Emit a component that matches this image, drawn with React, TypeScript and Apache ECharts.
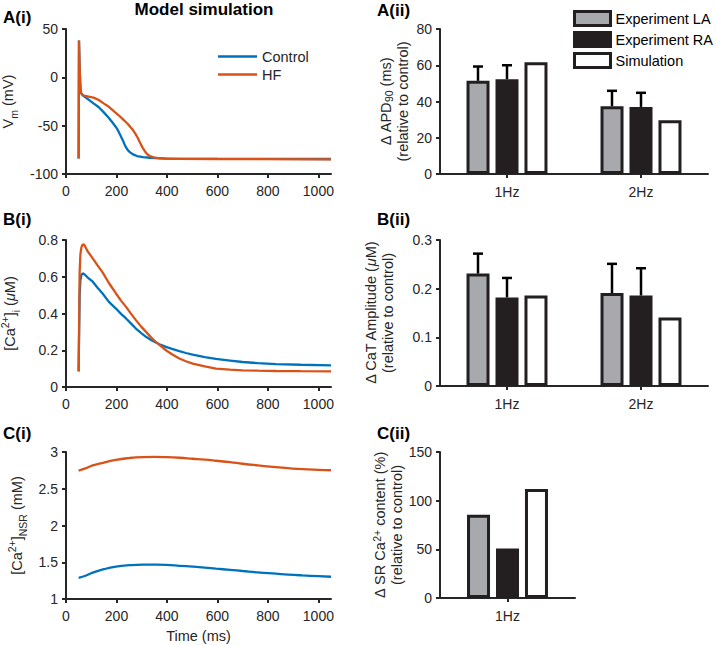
import React, { useEffect, useRef } from "react";
import * as echarts from "echarts";

// ---------- Left column: model simulation traces ([time ms, value]) ----------
const timeTicks = [0, 200, 400, 600, 800, 1000];

const controlAP: [number, number][] = [
  [50, -84], [51.5, 38], [54, 10], [57, -10], [60, -16.5], [66, -18.5], [83, -21.7], [109, -27],
  [130, -31], [149, -36], [170, -42], [188, -48], [202, -53], [215, -59.7], [225, -65],
  [234, -70.7], [244, -75], [254, -77.6], [268, -80], [281, -81.4], [305, -82.5],
  [333, -83.2], [400, -84], [600, -84.3], [800, -84.4], [1050, -84.5],
];
const hfAP: [number, number][] = [
  [50, -84], [51.5, 38], [54, 10], [57, -10], [60, -16.5], [68, -18.5], [76, -19.3], [90, -20],
  [109, -21], [130, -23.5], [149, -26.9], [170, -30.5], [188, -34.8], [210, -39.5],
  [228, -44], [242, -47.5], [254, -51], [264, -54], [274, -58], [284, -62.5], [294, -68],
  [304, -73], [314, -77], [323, -79.8], [333, -81.4], [350, -83], [373, -83.8],
  [450, -84.3], [600, -84.5], [1050, -84.8],
];

const controlCa: [number, number][] = [
  [50, 0.085], [52, 0.3], [54, 0.5], [57, 0.58], [61, 0.61], [66, 0.618], [72, 0.615],
  [85, 0.597], [106, 0.573], [125, 0.54], [145, 0.509], [170, 0.463], [198, 0.427],
  [218, 0.398], [238, 0.373], [258, 0.345], [277, 0.318], [297, 0.295], [317, 0.273],
  [337, 0.256], [356, 0.242], [376, 0.229], [396, 0.218], [420, 0.207], [449, 0.195],
  [475, 0.185], [502, 0.176], [550, 0.163], [594, 0.153], [650, 0.144], [700, 0.136],
  [760, 0.13], [832, 0.125], [930, 0.121], [1050, 0.118],
];
const hfCa: [number, number][] = [
  [50, 0.085], [52, 0.35], [54, 0.62], [57, 0.72], [61, 0.76], [66, 0.776], [73, 0.773],
  [85, 0.74], [106, 0.7], [125, 0.662], [145, 0.624], [170, 0.566], [198, 0.509],
  [218, 0.47], [238, 0.436], [258, 0.398], [277, 0.364], [297, 0.33], [317, 0.3],
  [337, 0.27], [356, 0.245], [376, 0.222], [396, 0.2], [420, 0.178], [449, 0.155],
  [475, 0.14], [502, 0.127], [550, 0.112], [594, 0.1], [650, 0.095], [700, 0.091],
  [760, 0.089], [832, 0.087], [930, 0.086], [1050, 0.085],
];

const controlNSR: [number, number][] = [
  [50, 1.289], [80, 1.32], [106, 1.358], [150, 1.405], [198, 1.44], [250, 1.46],
  [304, 1.468], [350, 1.467], [396, 1.463], [450, 1.452], [502, 1.44], [550, 1.427],
  [594, 1.413], [650, 1.397], [700, 1.381], [760, 1.362], [832, 1.344], [880, 1.332],
  [937, 1.321], [1000, 1.311], [1050, 1.303],
];
const hfNSR: [number, number][] = [
  [50, 2.748], [80, 2.78], [106, 2.817], [150, 2.857], [198, 2.894], [250, 2.918],
  [304, 2.931], [350, 2.934], [396, 2.931], [450, 2.922], [502, 2.908], [550, 2.895],
  [594, 2.881], [650, 2.862], [700, 2.84], [760, 2.818], [832, 2.794], [880, 2.78],
  [937, 2.766], [1000, 2.757], [1050, 2.752],
];

// ---------- Right column: experiment vs simulation bars ----------
const freqCats = ["1Hz", "2Hz"];
const apdLA = [51.4, 37.4];
const apdLAErr = [7.9, 8.5];
const apdRA = [52.3, 37];
const apdRAErr = [7.7, 7.8];
const apdSim = [61.7, 29.7];

const catLA = [0.231, 0.191];
const catLAErr = [0.041, 0.06];
const catRA = [0.182, 0.186];
const catRAErr = [0.04, 0.056];
const catSim = [0.186, 0.141];

const srCats = ["1Hz"];
const srLA = [85.5];
const srRA = [50.8];
const srSim = [111.9];

const FONT = "'Liberation Sans', Arial, Helvetica, sans-serif";
const AX = "#262626";
const BLUE = "#0072BD";
const ORANGE = "#D95319";
const EDGE = "#231f20";
const GREY = "#a7a9ac";
const BAR_STEP = 29;
const FS = 14.5;

const richLeft = {
  n: { fontSize: FS, lineHeight: 22, color: AX, fontFamily: FONT },
  it: { fontSize: FS, lineHeight: 22, color: AX, fontFamily: FONT, fontStyle: "italic" },
  sup: { fontSize: 10.5, lineHeight: 10, color: AX, fontFamily: FONT, verticalAlign: "top" },
  sub: { fontSize: 10.5, lineHeight: 10, color: AX, fontFamily: FONT, verticalAlign: "bottom" },
};
const richRight = {
  n: { fontSize: FS, lineHeight: 17, color: AX, fontFamily: FONT },
  it: { fontSize: FS, lineHeight: 17, color: AX, fontFamily: FONT, fontStyle: "italic" },
  sup: { fontSize: 10.5, lineHeight: 9, color: AX, fontFamily: FONT, verticalAlign: "top" },
  sub: { fontSize: 10.5, lineHeight: 9, color: AX, fontFamily: FONT, verticalAlign: "bottom" },
};

const axisLine = { show: true, onZero: false, lineStyle: { color: AX, width: 2 } };
const axisTick = { show: true, length: 4, lineStyle: { color: AX, width: 2 } };
const axisLabel = { color: AX, fontSize: 14, fontFamily: FONT };
const plain = (v: number) => String(v);

function timeAxis(gridIndex: number, named: boolean) {
  return {
    type: "value",
    gridIndex,
    min: 0,
    max: 1050,
    interval: 200,
    axisLine,
    axisTick: { ...axisTick, customValues: timeTicks },
    axisLabel: { ...axisLabel, margin: 10, customValues: timeTicks, formatter: plain },
    splitLine: { show: false },
    name: named ? "Time (ms)" : "",
    nameLocation: "middle",
    nameGap: 29,
    nameTextStyle: { color: AX, fontSize: FS, fontFamily: FONT },
  };
}

function catAxis(gridIndex: number, cats: string[]) {
  return {
    type: "category",
    gridIndex,
    data: cats,
    axisLine,
    axisTick: { ...axisTick, alignWithLabel: true },
    axisLabel: { ...axisLabel, margin: 11 },
    splitLine: { show: false },
  };
}

function yAxis(gridIndex: number, min: number, max: number, interval: number, name: string, gap: number, rich: any) {
  return {
    type: "value",
    gridIndex,
    min,
    max,
    interval,
    axisLine,
    axisTick,
    axisLabel: { ...axisLabel, margin: 8, formatter: plain },
    splitLine: { show: false },
    name,
    nameLocation: "middle",
    nameRotate: 90,
    nameGap: gap,
    nameTextStyle: { color: AX, fontSize: FS, fontFamily: FONT, rich },
  };
}

function lineSeries(name: string, color: string, idx: number, data: [number, number][], smooth = false) {
  return {
    type: "line",
    name,
    xAxisIndex: idx,
    yAxisIndex: idx,
    data,
    symbol: "none",
    showSymbol: false,
    smooth,
    lineStyle: { color, width: 2.3 },
    itemStyle: { color },
  };
}

function barSeries(name: string, idx: number, data: number[], fill: string) {
  return {
    type: "bar",
    name,
    xAxisIndex: idx,
    yAxisIndex: idx,
    data,
    barWidth: 23,
    barGap: "26%",
    itemStyle: { color: fill, borderColor: EDGE, borderWidth: 3 },
  };
}

function errSeries(idx: number, means: number[][], errs: number[][]) {
  const data: number[][] = [];
  means.forEach((m, k) => {
    m.forEach((v, c) => data.push([c, v, errs[k][c], k - 1]));
  });
  return {
    type: "custom",
    xAxisIndex: idx,
    yAxisIndex: idx,
    silent: true,
    z: 5,
    data,
    encode: { x: 0, y: 1 },
    renderItem: (_p: any, api: any) => {
      const c = api.value(0);
      const m = api.value(1);
      const e = api.value(2);
      const off = api.value(3);
      const base = api.coord([c, m]);
      const top = api.coord([c, m + e]);
      const x = base[0] + off * BAR_STEP;
      return {
        type: "group",
        children: [
          { type: "line", shape: { x1: x, y1: base[1], x2: x, y2: top[1] }, style: { stroke: "#000", lineWidth: 2.5 } },
          { type: "line", shape: { x1: x - 5, y1: top[1], x2: x + 5, y2: top[1] }, style: { stroke: "#000", lineWidth: 2.5 } },
        ],
      };
    },
  };
}

function label(text: string, x: number, y: number, align = "left") {
  return {
    type: "text",
    x,
    y,
    style: {
      text,
      fill: "#000",
      font: `bold 17px ${FONT}`,
      fontSize: 17,
      fontWeight: "bold",
      fontFamily: FONT,
      textAlign: align,
      align,
      textVerticalAlign: "middle",
      verticalAlign: "middle",
    },
  };
}

export default function App() {
  const ref = useRef<HTMLDivElement>(null);
  useEffect(() => {
    if (!ref.current) return;
    const chart = echarts.init(ref.current, undefined, { renderer: "svg" });
    const option: any = {
      animation: false,
      backgroundColor: "#ffffff",
      textStyle: { fontFamily: FONT },
      grid: [
        { left: 66, width: 265, top: 29, height: 145, outerBoundsMode: "none" },
        { left: 66, width: 265, top: 240, height: 147, outerBoundsMode: "none" },
        { left: 66, width: 265, top: 452, height: 147, outerBoundsMode: "none" },
        { left: 440, width: 268, top: 29, height: 145, outerBoundsMode: "none" },
        { left: 440, width: 268, top: 240, height: 146, outerBoundsMode: "none" },
        { left: 440, width: 135, top: 452, height: 146, outerBoundsMode: "none" },
      ],
      xAxis: [
        timeAxis(0, false),
        timeAxis(1, false),
        timeAxis(2, true),
        catAxis(3, freqCats),
        catAxis(4, freqCats),
        catAxis(5, srCats),
      ],
      yAxis: [
        yAxis(0, -100, 50, 50, "{n|V}{sub|m}{n| (mV)}", 47, richLeft),
        yAxis(1, 0, 0.8, 0.2, "{n|[Ca}{sup|2+}{n|]}{sub|i}{n| (}{it|μ}{n|M)}", 45, richLeft),
        yAxis(2, 1, 3, 0.5, "{n|[Ca}{sup|2+}{n|]}{sub|NSR}{n| (mM)}", 38, richLeft),
        yAxis(3, 0, 80, 20, "{n|Δ APD}{sub|90}{n| (ms)}\n{n|(relative to control)}", 29, richRight),
        yAxis(4, 0, 0.3, 0.1, "{n|Δ CaT Amplitude (}{it|μ}{n|M)}\n{n|(relative to control)}", 44, richRight),
        yAxis(5, 0, 150, 50, "{n|Δ SR Ca}{sup|2+}{n| content (%)}\n{n|(relative to control)}", 35, richRight),
      ],
      legend: [
        {
          data: ["Control", "HF"],
          orient: "vertical",
          left: 218,
          top: 49,
          padding: 0,
          itemWidth: 39,
          itemHeight: 2.5,
          itemGap: 3,
          icon: "rect",
          selectedMode: false,
          textStyle: { color: AX, fontSize: FS, fontFamily: FONT },
        },
        {
          data: ["Experiment LA", "Experiment RA", "Simulation"],
          orient: "vertical",
          left: 573,
          top: 10,
          padding: 0,
          itemWidth: 36,
          itemHeight: 14,
          itemGap: 4,
          icon: "rect",
          selectedMode: false,
          itemStyle: { borderWidth: 3, borderColor: EDGE },
          textStyle: { color: "#000", fontSize: FS, fontFamily: FONT },
        },
      ],
      graphic: [
        label("Model simulation", 204, 9, "center"),
        label("A(i)", 3, 17.8),
        label("A(ii)", 377, 10),
        label("B(i)", 3, 219.5),
        label("B(ii)", 377, 219.5),
        label("C(i)", 3, 433),
        label("C(ii)", 377, 433),
      ],
      series: [
        lineSeries("Control", BLUE, 0, controlAP),
        lineSeries("HF", ORANGE, 0, hfAP),
        lineSeries("Control", BLUE, 1, controlCa),
        lineSeries("HF", ORANGE, 1, hfCa),
        lineSeries("Control", BLUE, 2, controlNSR, true),
        lineSeries("HF", ORANGE, 2, hfNSR, true),
        barSeries("Experiment LA", 3, apdLA, GREY),
        barSeries("Experiment RA", 3, apdRA, EDGE),
        barSeries("Simulation", 3, apdSim, "#ffffff"),
        errSeries(3, [apdLA, apdRA], [apdLAErr, apdRAErr]),
        barSeries("Experiment LA", 4, catLA, GREY),
        barSeries("Experiment RA", 4, catRA, EDGE),
        barSeries("Simulation", 4, catSim, "#ffffff"),
        errSeries(4, [catLA, catRA], [catLAErr, catRAErr]),
        barSeries("Experiment LA", 5, srLA, GREY),
        barSeries("Experiment RA", 5, srRA, EDGE),
        barSeries("Simulation", 5, srSim, "#ffffff"),
      ],
    };
    chart.setOption(option);
    return () => chart.dispose();
  }, []);
  return (
    <div
      ref={ref}
      style={{ position: "fixed", left: 0, top: 0, width: 716, height: 645, background: "#fff" }}
    />
  );
}
